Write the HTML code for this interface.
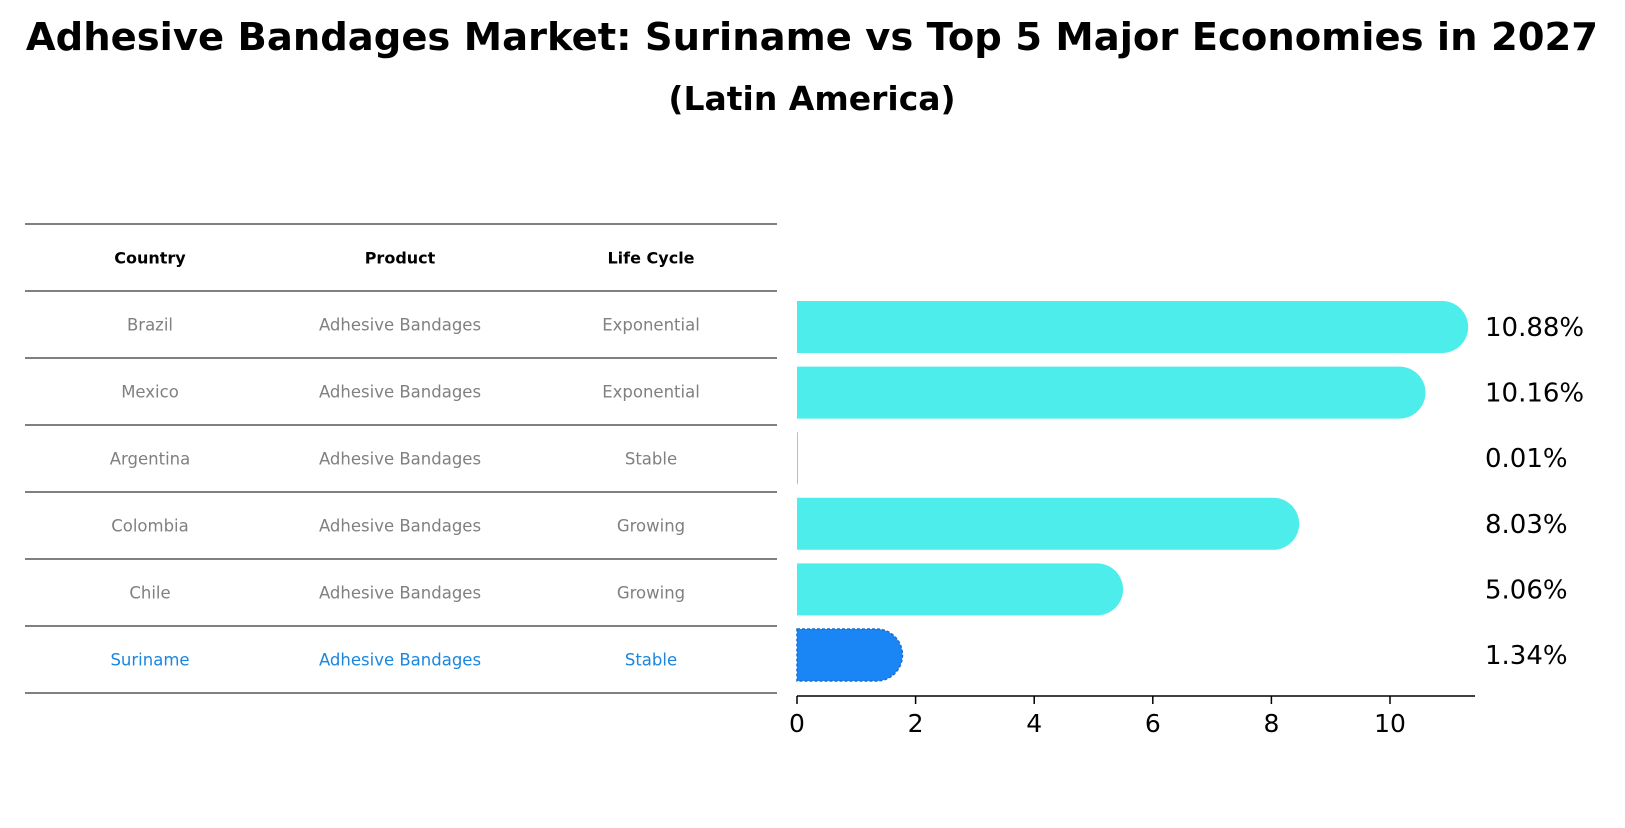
<!DOCTYPE html>
<html><head><meta charset="utf-8"><style>
body{margin:0;background:#fff;font-family:"Liberation Sans","DejaVu Sans",sans-serif;}
</style></head><body>
<svg width="1625" height="823" xmlns="http://www.w3.org/2000/svg" font-family="DejaVu Sans, Liberation Sans, sans-serif">
<text x="812" y="50" text-anchor="middle" font-size="38.5" font-weight="bold">Adhesive Bandages Market: Suriname vs Top 5 Major Economies in 2027</text>
<text x="812" y="110" text-anchor="middle" font-size="33" font-weight="bold">(Latin America)</text>
<g id="table"></g>
<g id="bars"></g>
</svg>
<script>
const countries=["Brazil","Mexico","Argentina","Colombia","Chile","Suriname"];
const lifeCycles=["Exponential","Exponential","Stable","Growing","Growing","Stable"];
const values=[10.88,10.16,0.01,8.03,5.06,1.34];
const labels=["10.88%","10.16%","0.01%","8.03%","5.06%","1.34%"];
const ticks=[0,2,4,6,8,10];
const NS="http://www.w3.org/2000/svg";
function mk(tag,attrs,parent,text){const e=document.createElementNS(NS,tag);for(const k in attrs)e.setAttribute(k,attrs[k]);if(text!==undefined)e.textContent=text;parent.appendChild(e);return e;}
const tbl=document.getElementById('table');
const rowTop=224,rowH=67;
const cols=[150,400,651];
for(let i=0;i<=countries.length+1;i++){
  const l=mk('line',{x1:25,x2:777,y1:rowTop+i*rowH,y2:rowTop+i*rowH,stroke:'#000','stroke-width':1},tbl);
  
  
}
["Country","Product","Life Cycle"].forEach((h,j)=>{
  const t=mk('text',{x:cols[j],y:rowTop+rowH/2+6,'text-anchor':'middle','font-size':16,'font-weight':'bold'},tbl,h);
  
  
});
countries.forEach((c,i)=>{
  const y=rowTop+(i+1.5)*rowH+6;
  const col=c==="Suriname"?'#1a86e0':'#808080';
  [c,"Adhesive Bandages",lifeCycles[i]].forEach((v,j)=>{
    const t=mk('text',{x:cols[j],y:y,'text-anchor':'middle','font-size':16.5,fill:col},tbl,v);
    
    
  });
});
const g=document.getElementById('bars');
const x0=797,pxPer=59.3;
const xs=v=>x0+v*pxPer;
const barH=52,r=26;
const centers=i=>327+i*65.6;
values.forEach((v,i)=>{
  const cy=centers(i),x1=xs(v),isS=countries[i]==="Suriname";
  const fill=isS?'#1a86f5':'#4cedea';
  let d;
  if(v<0.05){d=`M${x0},${cy-barH/2}h1v${barH}h-1z`;}
  else d=`M${x0},${cy-barH/2}H${x1}A${r},${r} 0 0 1 ${x1},${cy+barH/2}H${x0}Z`;
  const p=mk('path',{d:d,fill:fill},g);
  if(isS){p.setAttribute('stroke','#1a6fd0');p.setAttribute('stroke-dasharray','3,2');p.setAttribute('stroke-width','1.5');}
  
  
  const t=mk('text',{x:1485,y:cy+9,'font-size':26},g,labels[i]);
  
  
});
const ay=696;
const ax=mk('line',{x1:x0,x2:1475,y1:ay,y2:ay,stroke:'#000','stroke-width':1.5},g);


ticks.forEach(t=>{
  const tl=mk('line',{x1:xs(t),x2:xs(t),y1:ay,y2:ay+8,stroke:'#000','stroke-width':1.5},g);
  
  
  const tx=mk('text',{x:xs(t),y:ay+36,'text-anchor':'middle','font-size':25},g,String(t));
  
  
});
</script>
</body></html>
